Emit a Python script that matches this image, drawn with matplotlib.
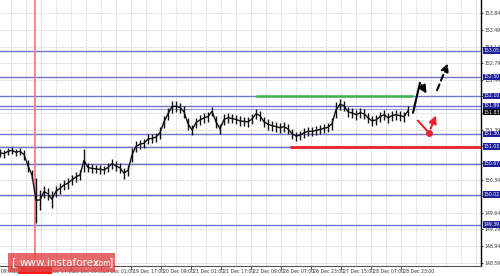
import numpy as np
import matplotlib
matplotlib.use("Agg")
import matplotlib.pyplot as plt
from matplotlib.transforms import blended_transform_factory
from matplotlib.patches import Rectangle

# ---------------- data ----------------
highs = [150.99, 150.97, 151.01, 151.03, 150.99, 151.01, 150.97, 150.76, 150.54, 150.38,
         150.12, 150.21, 150.17, 150.10, 150.21, 150.27, 150.33, 150.38, 150.44, 150.50,
         150.54, 150.99, 150.69, 150.67, 150.65, 150.65, 150.63, 150.69, 150.78, 150.73,
         150.69, 150.59, 150.65, 151.01, 151.16, 151.18, 151.20, 151.30, 151.30, 151.33,
         151.45, 151.68, 151.85, 152.00, 152.00, 151.96, 151.89, 151.64, 151.49, 151.64,
         151.70, 151.75, 151.77, 151.87, 151.68, 151.51, 151.72, 151.75, 151.72, 151.70,
         151.68, 151.66, 151.66, 151.72, 151.83, 151.79, 151.66, 151.62, 151.58, 151.56,
         151.53, 151.56, 151.51, 151.41, 151.35, 151.37, 151.43, 151.45, 151.45, 151.47,
         151.49, 151.51, 151.53, 151.64, 151.98, 152.04, 152.00, 151.87, 151.85, 151.81,
         151.85, 151.83, 151.75, 151.68, 151.70, 151.77, 151.81, 151.75, 151.79, 151.81,
         151.79, 151.77, 151.89]
lows = [150.82, 150.80, 150.86, 150.88, 150.84, 150.86, 150.76, 150.50, 150.33, 149.43,
        149.70, 149.96, 149.91, 149.75, 149.98, 150.04, 150.12, 150.15, 150.23, 150.29,
        150.33, 150.50, 150.50, 150.48, 150.48, 150.46, 150.46, 150.50, 150.57, 150.52,
        150.48, 150.36, 150.42, 150.71, 150.92, 150.99, 151.01, 151.09, 151.11, 151.14,
        151.20, 151.43, 151.60, 151.75, 151.77, 151.75, 151.64, 151.39, 151.28, 151.43,
        151.49, 151.53, 151.56, 151.68, 151.43, 151.30, 151.49, 151.53, 151.53, 151.51,
        151.47, 151.47, 151.45, 151.51, 151.62, 151.58, 151.45, 151.39, 151.37, 151.35,
        151.33, 151.35, 151.30, 151.20, 151.16, 151.18, 151.22, 151.26, 151.26, 151.28,
        151.30, 151.33, 151.35, 151.39, 151.64, 151.81, 151.79, 151.66, 151.64, 151.60,
        151.64, 151.62, 151.53, 151.47, 151.49, 151.56, 151.60, 151.53, 151.58, 151.60,
        151.58, 151.56, 151.68]

levels = [153.05, 152.50, 152.10, 151.89, 151.30, 151.03, 150.67, 150.02, 149.39]
bid_price = 151.83
ytick_values = [148.59, 148.94, 149.29, 149.64, 149.99, 150.34, 150.69, 151.04,
                151.39, 151.74, 152.09, 152.44, 152.79, 153.14, 153.49, 153.84]
time_labels = ["14 Dec 09:00", "15 Dec 01:00", "15 Dec 17:00", "18 Dec 09:00",
               "19 Dec 01:00", "19 Dec 17:00", "20 Dec 09:00", "21 Dec 01:00",
               "21 Dec 17:00", "22 Dec 09:00", "26 Dec 07:00", "26 Dec 23:00",
               "27 Dec 15:00", "28 Dec 07:00", "28 Dec 23:00"]
cursor_label = "15 Dec 13:00"

resistance_green = (64.0, 103.25, 152.10)
support_red = (72.5, 151.03)
bull_path = [(103.25, 151.745), (105.0, 152.377)]
bull_head = [(105.0, 152.377), (107.0, 152.10)]
bull_dash = [(109.0, 152.166), (112.25, 152.84)]
bear_path = [(104.5, 151.577), (107.25, 151.324)]
bear_arrow = [(107.4, 151.36), (109.25, 151.745)]

# ---------------- figure ----------------
W, H = 500, 276
FS = 3.3
fig = plt.figure(figsize=(W / 100, H / 100), dpi=100)
fig.patch.set_facecolor("white")
ax = fig.add_axes([0, 10 / H, 481 / W, 266 / H])
ax.set_facecolor("white")

n = len(highs)
x = np.arange(n)
xmax = 481 / 4
ax.set_xlim(0, xmax)
ax.set_ylim(148.52, 154.12)

# grid
for k in range(-1, 33):
    gx = (11 + 15 * k) / 4
    if 0 <= gx <= xmax:
        ax.axvline(gx, color="#c8c8c8", lw=0.6, ls=(0, (1.5, 1.5)), zorder=0)
for yv in ytick_values:
    ax.axhline(yv, color="#c8c8c8", lw=0.6, ls=(0, (1.5, 1.5)), zorder=0)

# levels
for lv in levels:
    ax.axhline(lv, color="#7272c9", lw=1.0, zorder=1)
ax.axhline(bid_price, color="#9a9ad6", lw=0.8, zorder=1)

# red vertical cursor line
ax.axvline((11 + 24) / 4, color="#f08080", lw=1.3, zorder=1)

# price bars
h = np.array(highs)
l = np.array(lows)
ax.vlines(x, l, h, color="#111111", lw=1.0, zorder=3)
ax.plot(x, (h + l) / 2, color="#111111", lw=1.0, zorder=3)

# green and red lines
ax.hlines(resistance_green[2], resistance_green[0], resistance_green[1], color="#3cb44b", lw=1.8, zorder=4)
ax.hlines(support_red[1], support_red[0], xmax, color="#e8262b", lw=2.0, zorder=4)

# black forecast arrows
ax.plot(*zip(*bull_path), color="black", lw=1.5, zorder=5, solid_capstyle="round")
ax.annotate("", xy=bull_head[1], xytext=bull_head[0],
            arrowprops=dict(arrowstyle="-|>,head_length=0.45,head_width=0.22", color="black", lw=1.5),
            zorder=5)
ax.annotate("", xy=bull_dash[1], xytext=bull_dash[0],
            arrowprops=dict(arrowstyle="-|>,head_length=0.45,head_width=0.22", color="black", lw=1.5,
                            linestyle=(0, (3, 2))), zorder=5)
# red forecast
ax.plot(*zip(*bear_path), color="#e8262b", lw=1.5, zorder=5)
ax.plot([bear_path[1][0]], [bear_path[1][1]], "o", color="#e8262b", ms=4, zorder=6)
ax.annotate("", xy=bear_arrow[1], xytext=bear_arrow[0],
            arrowprops=dict(arrowstyle="-|>,head_length=0.45,head_width=0.22", color="#e8262b", lw=1.5),
            zorder=5)

# spines
for s in ["top", "left"]:
    ax.spines[s].set_visible(False)
ax.spines["right"].set_color("black")
ax.spines["right"].set_linewidth(1.0)
ax.spines["bottom"].set_color("#555555")
ax.spines["bottom"].set_linewidth(0.8)

# y ticks right
ax.yaxis.tick_right()
ax.set_yticks(ytick_values)
ax.set_yticklabels([f"{v:.2f}" for v in ytick_values], fontsize=FS, color="#333333")
ax.tick_params(axis="y", length=1.5, width=0.6, pad=1.0, colors="#333333")
ax.set_xticks([])

# level labels
tr = blended_transform_factory(ax.transAxes, ax.transData)
for lv in levels:
    ax.text(1.005, lv, f"{lv:.2f}", transform=tr, fontsize=FS, color="white", va="center", ha="left",
            bbox=dict(facecolor="#1f1f99", edgecolor="none", pad=0.6), clip_on=False, zorder=10)
ax.text(1.005, bid_price - 0.07, f"{bid_price:.2f}", transform=tr, fontsize=FS, color="white",
        va="center", ha="left", bbox=dict(facecolor="black", edgecolor="none", pad=0.6),
        clip_on=False, zorder=11)

# x labels
trx = blended_transform_factory(ax.transData, ax.transAxes)
for k, lab in enumerate(time_labels):
    px = -19 + 30 * k
    xi = px / 4
    ax.text(xi + 0.4, -0.01, lab, transform=trx, fontsize=FS, color="#333333",
            ha="left", va="top", clip_on=False)
    if 0 <= xi <= xmax:
        ax.plot([xi, xi], [0, -0.012], transform=trx, color="#333333", lw=0.6, clip_on=False)

# cursor time label
ax.text(35 / 4, -0.008, cursor_label, transform=trx, fontsize=FS, color="#700000",
        ha="center", va="top", clip_on=False, zorder=12,
        bbox=dict(facecolor="#ff1a1a", edgecolor="none", pad=0.8))

# watermark
fig.patches.append(Rectangle((8 / W, 1 - 272 / H), 107 / W, 19 / H, transform=fig.transFigure,
                             facecolor="#e04848", alpha=0.82, edgecolor="none", zorder=20))
fig.text(12 / W, 1 - 262.5 / H, "[", fontsize=8, color="white", va="center", ha="left", zorder=21)
fig.text(20 / W, 1 - 262.5 / H, "www.instaforex", fontsize=7.5, color="white", va="center", ha="left", zorder=21)
fig.text(92 / W, 1 - 263 / H, ".com", fontsize=5.5, color="white", va="center", ha="left", zorder=21)
fig.text(109 / W, 1 - 262.5 / H, "]", fontsize=8, color="white", va="center", ha="left", zorder=21)

fig.savefig("out.png", dpi=100)
